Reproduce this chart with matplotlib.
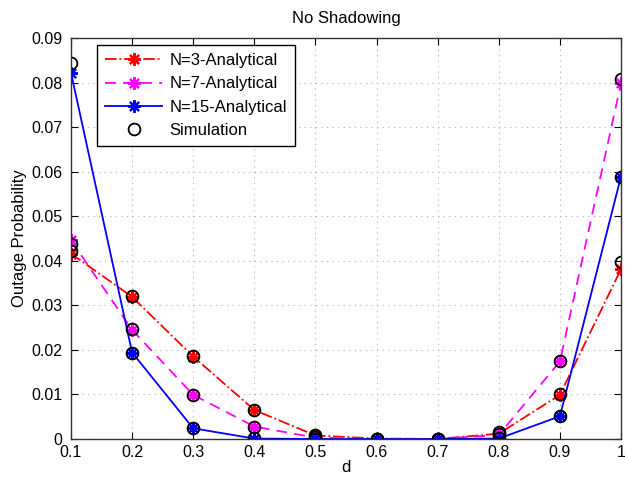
import matplotlib
matplotlib.use('Agg')
import matplotlib.pyplot as plt
import numpy as np

plt.rcParams['font.family'] = ['Liberation Sans', 'DejaVu Sans']

# ─── Data ───
d = [0.1, 0.2, 0.3, 0.4, 0.5, 0.6, 0.7, 0.8, 0.9, 1.0]

n3_analytical = [0.0416, 0.0319, 0.0185, 0.0065, 0.0008, 0.0001, 0.0, 0.0012, 0.0099, 0.0381]
n7_analytical = [0.0446, 0.0245, 0.0099, 0.0028, 0.0003, 0.0, 0.0, 0.0009, 0.0174, 0.0798]
n15_analytical = [0.0822, 0.0194, 0.0024, 0.0001, 0.0, 0.0, 0.0, 0.0001, 0.0051, 0.0589]

n3_sim = [0.0423, 0.0320, 0.0186, 0.0066, 0.0010, 0.0001, 0.0, 0.0016, 0.0100, 0.0398]
n7_sim = [0.0437, 0.0246, 0.0099, 0.0028, 0.0004, 0.0, 0.0, 0.0011, 0.0175, 0.0809]
n15_sim = [0.0843, 0.0194, 0.0025, 0.0002, 0.0, 0.0, 0.0, 0.0002, 0.0052, 0.0588]

ASTERISK = (8, 2, 0)   # matlab-ish '*'

fig = plt.figure(figsize=(6.25, 4.84), dpi=100)
ax = fig.add_axes([71 / 625, 1 - 439 / 484, 550 / 625, 401 / 484])

ax.plot(d, n3_analytical, color='red', linestyle='-.', marker=ASTERISK, markersize=9,
        markeredgewidth=1.6, linewidth=1.3, label='N=3-Analytical')
ax.plot(d, n7_analytical, color='magenta', linestyle=(0, (6, 4)), marker=ASTERISK, markersize=9,
        markeredgewidth=1.6, linewidth=1.3, label='N=7-Analytical')
ax.plot(d, n15_analytical, color='blue', linestyle='-', marker=ASTERISK, markersize=9,
        markeredgewidth=1.6, linewidth=1.3, label='N=15-Analytical')

sim_style = dict(linestyle='none', marker='o', markersize=8.5, markerfacecolor='none',
                 markeredgecolor='black', markeredgewidth=1.3)
ax.plot(d, n3_sim, label='Simulation', **sim_style)
ax.plot(d, n7_sim, **sim_style)
ax.plot(d, n15_sim, **sim_style)

ax.set_xlim(0.1, 1.0)
ax.set_ylim(0, 0.09)
ax.set_xticks([0.1, 0.2, 0.3, 0.4, 0.5, 0.6, 0.7, 0.8, 0.9, 1.0])
ax.set_xticklabels(['0.1', '0.2', '0.3', '0.4', '0.5', '0.6', '0.7', '0.8', '0.9', '1'])
ax.set_yticks(np.arange(0, 0.0901, 0.01))
ax.set_yticklabels(['0', '0.01', '0.02', '0.03', '0.04', '0.05', '0.06', '0.07', '0.08', '0.09'])
ax.tick_params(direction='in', top=True, right=True, labelsize=11.5, length=5)
ax.tick_params(axis='x', pad=4)
ax.tick_params(axis='y', pad=6)
ax.grid(True, linestyle=(0, (1, 4)), color='#b0b0b0', linewidth=0.8)
for s in ax.spines.values():
    s.set_linewidth(1.0)
    s.set_color('#333333')

ax.set_xlabel('d', fontsize=12, labelpad=0)
ax.set_ylabel('Outage Probability', fontsize=12, labelpad=3)
ax.set_title('No Shadowing', fontsize=12, pad=11)

leg = ax.legend(loc='upper left', bbox_to_anchor=(0.047, 0.983), fontsize=12,
                fancybox=False, framealpha=1, edgecolor='black',
                handlelength=3.4, handletextpad=0.45, borderpad=0.5, labelspacing=0.5,
                borderaxespad=0)
leg.get_frame().set_linewidth(1.0)

fig.savefig('out.png', dpi=100)
